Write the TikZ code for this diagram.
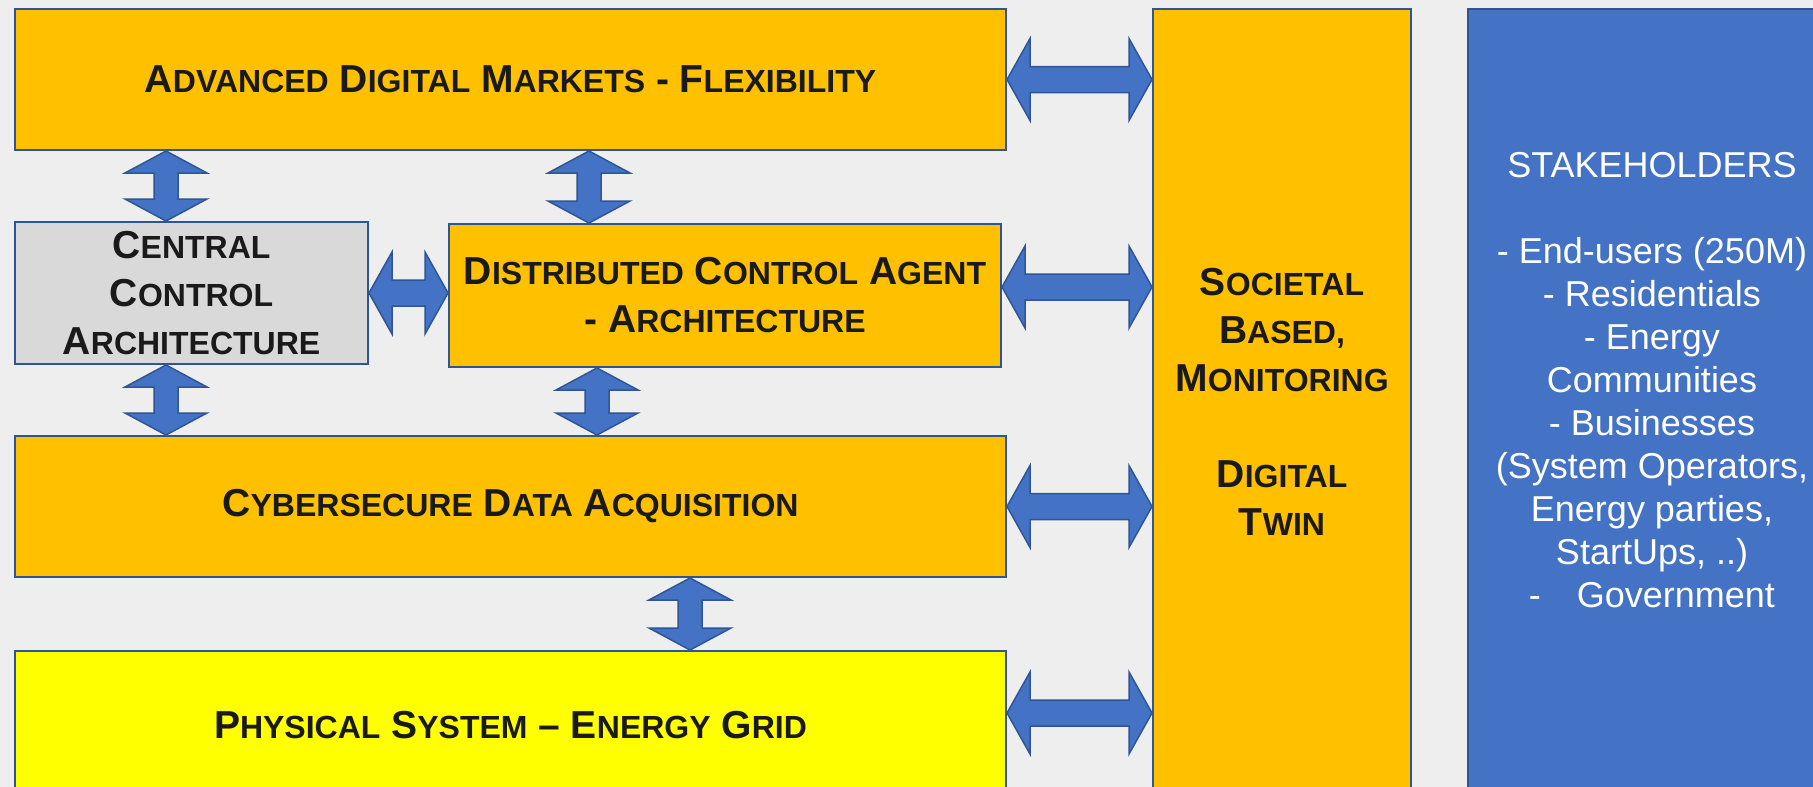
\documentclass[tikz,border=0pt]{standalone}
\usepackage{fontspec}
\setmainfont{Liberation Sans}
\usepackage{tikz}
\usetikzlibrary{calc}

\definecolor{bggray}{HTML}{EEEEEE}
\definecolor{boxline}{HTML}{2F5597}
\definecolor{amber}{HTML}{FFC000}
\definecolor{brightyellow}{HTML}{FFFF00}
\definecolor{lightgray}{HTML}{D9D9D9}
\definecolor{arrowblue}{HTML}{4472C4}
\definecolor{textblack}{HTML}{1A1A1A}

\newcommand\boxfont{\bfseries\fontsize{39}{48}\selectfont}
\newcommand\stkfont{\fontsize{36}{43}\selectfont}
% fake small caps: first letter big, rest smaller
\newcommand\sck[2]{#1{\fontsize{32}{48}\selectfont#2}}

% block arrows, left to right / top to bottom
\newcommand\harrow[2]{\path[blockarrow] let \p1=#1, \p2=#2 in
  (\x1,\y1) -- (\x1+23pt,\y1+41pt) -- (\x1+23pt,\y1+13pt) -- (\x2-23pt,\y1+13pt)
  -- (\x2-23pt,\y1+41pt) -- (\x2,\y1) -- (\x2-23pt,\y1-41pt) -- (\x2-23pt,\y1-13pt)
  -- (\x1+23pt,\y1-13pt) -- (\x1+23pt,\y1-41pt) -- cycle;}
\newcommand\varrow[2]{\path[blockarrow] let \p1=#1, \p2=#2 in
  (\x1,\y1) -- (\x1+41pt,\y1-22pt) -- (\x1+12pt,\y1-22pt) -- (\x1+12pt,\y2+22pt)
  -- (\x1+41pt,\y2+22pt) -- (\x1,\y2) -- (\x1-41pt,\y2+22pt) -- (\x1-12pt,\y2+22pt)
  -- (\x1-12pt,\y1-22pt) -- (\x1-41pt,\y1-22pt) -- cycle;}

\tikzset{
  box/.style={draw=boxline, line width=2pt, inner sep=0pt, align=center,
    text=textblack, font=\boxfont},
  layer/.style={box, fill=amber},
  blockarrow/.style={fill=arrowblue, draw=boxline, line width=1.5pt, line join=miter}
}

\begin{document}
\begin{tikzpicture}[x=1pt,y=1pt]
  \useasboundingbox (0,0) rectangle (1813,-787);
  \clip (0,0) rectangle (1813,-787);
  \fill[bggray] (0,0) rectangle (1813,-787);

      \draw (510.5,-79.5) node[layer, minimum width=991, minimum height=141] (adm)
        {\sck{A}{DVANCED} \sck{D}{IGITAL} \sck{M}{ARKETS} - \sck{F}{LEXIBILITY}};
      \draw (191.5,-293) node[box, fill=lightgray, minimum width=353, minimum height=142] (cca)
        {\sck{C}{ENTRAL}\\\sck{C}{ONTROL}\\\sck{A}{RCHITECTURE}};
      \draw (725,-295.5) node[layer, minimum width=552, minimum height=143] (dca)
        {\sck{D}{ISTRIBUTED} \sck{C}{ONTROL} \sck{A}{GENT}\\- \sck{A}{RCHITECTURE}};
      \draw (510.5,-506.5) node[layer, minimum width=991, minimum height=141] (cda)
        {\sck{C}{YBERSECURE} \sck{D}{ATA} \sck{A}{CQUISITION}};
      \draw (510.5,-725) node[box, fill=brightyellow, minimum width=991, minimum height=148] (pse)
        {\sck{P}{HYSICAL} \sck{S}{YSTEM} – \sck{E}{NERGY} \sck{G}{RID}};
%%%%%%%%%%%%%%%%%%%%%%%%%%%%%%%%%%%%%%%%%%%%%%%%%%%%%%%%%%%%%%%%%%%%%%%
      \draw (1282,-402) node[layer, minimum width=258, minimum height=786] (sbm)
        {\sck{S}{OCIETAL}\\\sck{B}{ASED,}\\\sck{M}{ONITORING}\\[48pt]\sck{D}{IGITAL}\\\sck{T}{WIN}};
      \draw (1652,-402) node[draw=boxline, line width=2pt, fill=arrowblue,
        minimum width=368, minimum height=786] (stk) {};
      \draw ([yshift=22]stk.center) node[align=center, text=white, font=\stkfont] (stklist)
        {STAKEHOLDERS\\[43pt]- End-users (250M)\\- Residentials\\- Energy\\Communities\\
         - Businesses\\(System Operators,\\Energy parties,\\StartUps, ..)\\-\quad Government};
%%%%%%%%%%%%%%%%%%%%%%%%%%%%%%%%%%%%%%%%%%%%%%%%%%%%%%%%%%%%%%%%%%%%%%%
      \varrow{([xshift=152pt]adm.south west)}{([xshift=152pt]cca.north west)}
      \varrow{([xshift=575pt]adm.south west)}{([xshift=141pt]dca.north west)}
      \varrow{([xshift=152pt]cca.south west)}{([xshift=152pt]cda.north west)}
      \varrow{([xshift=149pt]dca.south west)}{([xshift=583pt]cda.north west)}
      \varrow{([xshift=676pt]cda.south west)}{([xshift=676pt]pse.north west)}
      \harrow{(cca.east)}{(dca.west)}
      \harrow{(adm.east)}{(sbm.west)}
      \harrow{([yshift=8.5pt]dca.east)}{(sbm.west)}
      \harrow{(cda.east)}{(sbm.west)}
      \harrow{([yshift=12pt]pse.east)}{(sbm.west)}
\end{tikzpicture}
\end{document}
